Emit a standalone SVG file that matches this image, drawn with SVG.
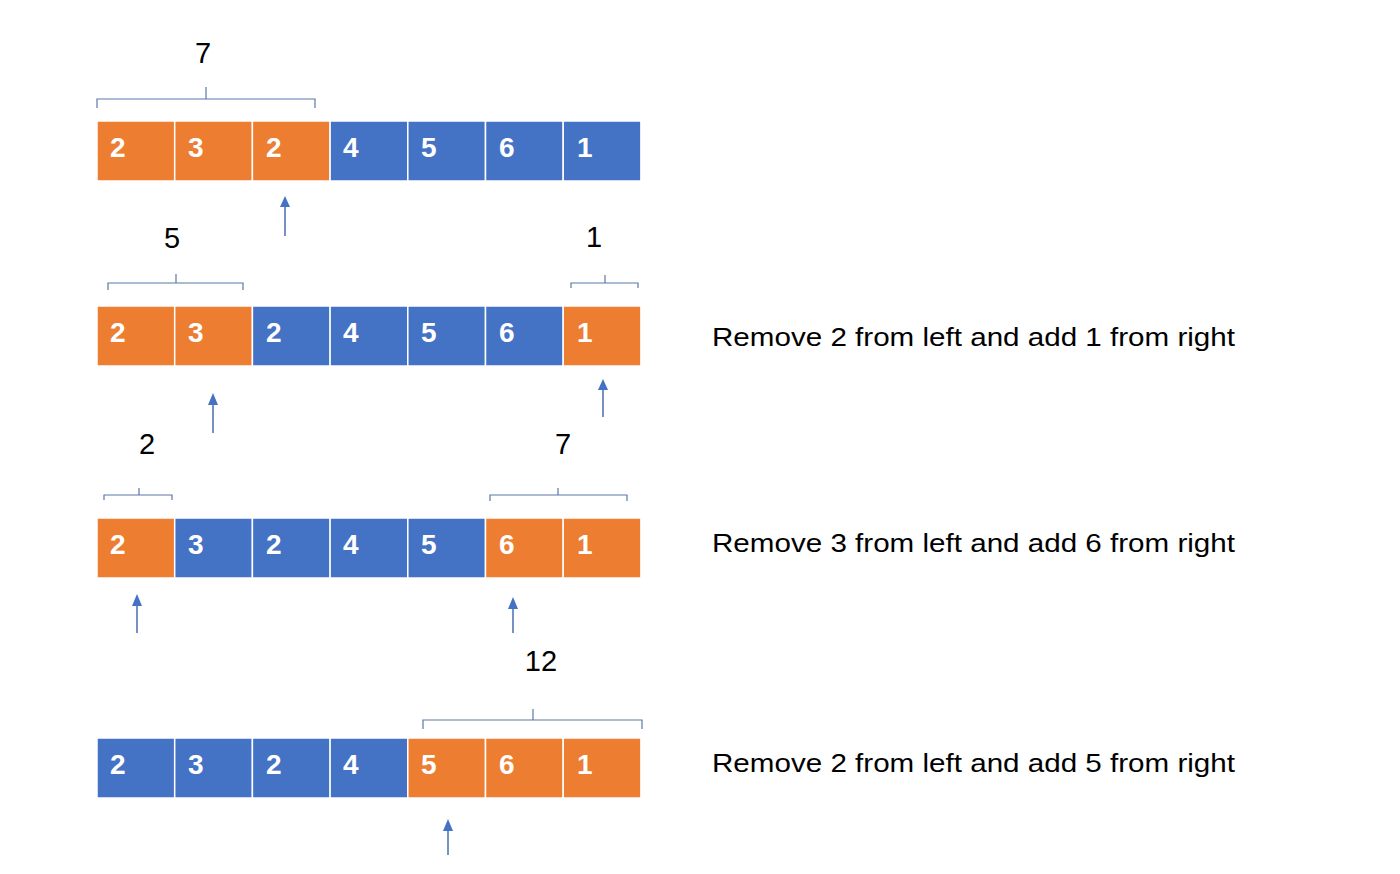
<svg xmlns="http://www.w3.org/2000/svg" width="1400" height="874" viewBox="0 0 1400 874">
<style>
.o{fill:#ED7D31;stroke:#fff;stroke-width:1.5}
.b{fill:#4472C4;stroke:#fff;stroke-width:1.5}
.n{fill:#fff;font-family:"Liberation Sans",Arial,sans-serif;font-weight:bold;font-size:28px}
.lbl{fill:#000;font-family:"Liberation Sans",Arial,sans-serif;font-size:29px;text-anchor:middle}
.txt{fill:#000;font-family:"Liberation Sans",Arial,sans-serif;font-size:26px}
.br{fill:none;stroke:#5A78A8;stroke-width:1.2}
.ar{stroke:#4A6DAF;stroke-width:1.5;fill:none}
.hd{fill:#4472C4}
</style>
<rect width="1400" height="874" fill="#fff"/>
<g id="row1">
<rect class="o" x="97" y="121" width="77.7" height="60"/>
<rect class="o" x="174.7" y="121" width="77.7" height="60"/>
<rect class="o" x="252.4" y="121" width="77.7" height="60"/>
<rect class="b" x="330.1" y="121" width="77.7" height="60"/>
<rect class="b" x="407.8" y="121" width="77.7" height="60"/>
<rect class="b" x="485.5" y="121" width="77.7" height="60"/>
<rect class="b" x="563.2" y="121" width="77.7" height="60"/>
<text class="n" x="110" y="157">2</text>
<text class="n" x="188" y="157">3</text>
<text class="n" x="266" y="157">2</text>
<text class="n" x="343" y="157">4</text>
<text class="n" x="421" y="157">5</text>
<text class="n" x="499" y="157">6</text>
<text class="n" x="577" y="157">1</text>
</g>
<g id="row2">
<rect class="o" x="97" y="306" width="77.7" height="60"/>
<rect class="o" x="174.7" y="306" width="77.7" height="60"/>
<rect class="b" x="252.4" y="306" width="77.7" height="60"/>
<rect class="b" x="330.1" y="306" width="77.7" height="60"/>
<rect class="b" x="407.8" y="306" width="77.7" height="60"/>
<rect class="b" x="485.5" y="306" width="77.7" height="60"/>
<rect class="o" x="563.2" y="306" width="77.7" height="60"/>
<text class="n" x="110" y="342">2</text>
<text class="n" x="188" y="342">3</text>
<text class="n" x="266" y="342">2</text>
<text class="n" x="343" y="342">4</text>
<text class="n" x="421" y="342">5</text>
<text class="n" x="499" y="342">6</text>
<text class="n" x="577" y="342">1</text>
</g>
<g id="row3">
<rect class="o" x="97" y="518" width="77.7" height="60"/>
<rect class="b" x="174.7" y="518" width="77.7" height="60"/>
<rect class="b" x="252.4" y="518" width="77.7" height="60"/>
<rect class="b" x="330.1" y="518" width="77.7" height="60"/>
<rect class="b" x="407.8" y="518" width="77.7" height="60"/>
<rect class="o" x="485.5" y="518" width="77.7" height="60"/>
<rect class="o" x="563.2" y="518" width="77.7" height="60"/>
<text class="n" x="110" y="554">2</text>
<text class="n" x="188" y="554">3</text>
<text class="n" x="266" y="554">2</text>
<text class="n" x="343" y="554">4</text>
<text class="n" x="421" y="554">5</text>
<text class="n" x="499" y="554">6</text>
<text class="n" x="577" y="554">1</text>
</g>
<g id="row4">
<rect class="b" x="97" y="738" width="77.7" height="60"/>
<rect class="b" x="174.7" y="738" width="77.7" height="60"/>
<rect class="b" x="252.4" y="738" width="77.7" height="60"/>
<rect class="b" x="330.1" y="738" width="77.7" height="60"/>
<rect class="o" x="407.8" y="738" width="77.7" height="60"/>
<rect class="o" x="485.5" y="738" width="77.7" height="60"/>
<rect class="o" x="563.2" y="738" width="77.7" height="60"/>
<text class="n" x="110" y="774">2</text>
<text class="n" x="188" y="774">3</text>
<text class="n" x="266" y="774">2</text>
<text class="n" x="343" y="774">4</text>
<text class="n" x="421" y="774">5</text>
<text class="n" x="499" y="774">6</text>
<text class="n" x="577" y="774">1</text>
</g>
<g id="braces">
<path class="br" d="M97,108 V99 H315 V108 M206,99 V87"/>
<path class="br" d="M108,290 V283 H243 V290 M176,283 V274"/>
<path class="br" d="M571,288 V283 H638 V288 M605,283 V275"/>
<path class="br" d="M104,500 V495 H172 V500 M139,495 V488"/>
<path class="br" d="M490,501 V495 H627 V501 M558,495 V488"/>
<path class="br" d="M423,729 V720 H642 V729 M533,720 V709"/>
</g>
<g id="labels">
<text class="lbl" x="203" y="63">7</text>
<text class="lbl" x="172" y="248">5</text>
<text class="lbl" x="594" y="247">1</text>
<text class="lbl" x="147" y="454">2</text>
<text class="lbl" x="563" y="454">7</text>
<text class="lbl" x="541" y="671">12</text>
</g>
<g id="connectors">
<path class="ar" d="M285,205 V236"/><path class="hd" d="M280,207 L285,196 L290,207 Z"/>
<path class="ar" d="M213,403 V433"/><path class="hd" d="M208,405 L213,393 L218,405 Z"/>
<path class="ar" d="M603,388 V417"/><path class="hd" d="M598,390 L603,379 L608,390 Z"/>
<path class="ar" d="M137,604 V633"/><path class="hd" d="M132,606 L137,594 L142,606 Z"/>
<path class="ar" d="M513,607 V633"/><path class="hd" d="M508,609 L513,597 L518,609 Z"/>
<path class="ar" d="M448,829 V855"/><path class="hd" d="M443,831 L448,819 L453,831 Z"/>
</g>
<g id="notes">
<text class="txt" x="712" y="346" textLength="523" lengthAdjust="spacingAndGlyphs">Remove 2 from left and add 1 from right</text>
<text class="txt" x="712" y="552" textLength="523" lengthAdjust="spacingAndGlyphs">Remove 3 from left and add 6 from right</text>
<text class="txt" x="712" y="772" textLength="523" lengthAdjust="spacingAndGlyphs">Remove 2 from left and add 5 from right</text>
</g>
</svg>
